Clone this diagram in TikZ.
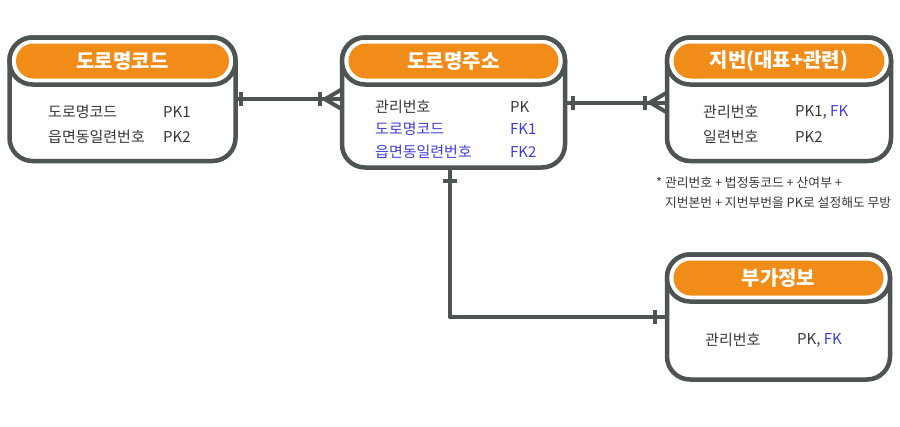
\documentclass[tikz,border=0pt]{standalone}
\usepackage{fontspec}
\setmainfont{Noto Sans CJK KR}
\usetikzlibrary{calc}
\definecolor{erline}{HTML}{4E5353}
\definecolor{erhead}{HTML}{F28C18}
\definecolor{fkblue}{HTML}{3F3FD6}
\definecolor{ertext}{HTML}{363838}
\tikzset{
  ent/.style={draw=erline,line width=4.5pt,rounded corners=23pt,outer sep=0pt,
    inner sep=0pt,fill=white},
  hdrbox/.style={ent,minimum height=47pt},
  ttl/.style={fill=erhead,rounded corners=17.5pt,minimum height=35pt,inner sep=0pt,
    text=white,font=\fontsize{20}{22}\selectfont\bfseries},
  fld/.style={anchor=west,inner sep=0pt,text=ertext,font=\fontsize{15}{17}\selectfont},
  fk/.style={fld,text=fkblue},
  rel/.style={draw=erline,line width=4pt,line join=round},
  onebar/.style={draw=erline,line width=4.5pt},
  note/.style={anchor=west,inner sep=0pt,align=left,text=ertext,
    font=\fontsize{12.8}{20}\selectfont},
}

\begin{document}
\begin{tikzpicture}[x=1pt,y=-1pt]
  \useasboundingbox (0,0) rectangle (900,426);
  % entities
  \node[ent,minimum width=226pt,minimum height=123.5pt] (ma) at (122.5,99.25) {};
  \node[ent,minimum width=223pt,minimum height=130pt] (mb) at (453.5,102.5) {};
  \node[ent,minimum width=224pt,minimum height=123.5pt] (mc) at (779,99.25) {};
  \node[ent,minimum width=223pt,minimum height=125pt] (md) at (778.5,317) {};
  \node[hdrbox,minimum width=226pt,anchor=north] (mah) at (ma.north) {};
  \node[hdrbox,minimum width=223pt,anchor=north] (mbh) at (mb.north) {};
  \node[hdrbox,minimum width=224pt,anchor=north] (mch) at (mc.north) {};
  \node[hdrbox,minimum width=223pt,anchor=north] (mdh) at (md.north) {};
  \node[ttl,minimum width=213pt] (mat) at (mah) {도로명코드};
  \node[ttl,minimum width=210pt] (mbt) at (mbh) {도로명주소};
  \node[ttl,minimum width=211pt] (mct) at (mch) {지번(대표+관련)};
  \node[ttl,minimum width=210pt] (mdt) at (mdh) {부가정보};
  % fields
  \node[fld] (ma1) at (48,112) {도로명코드};
  \node[fld] (ma1k) at (163,112) {PK1};
  \node[fld] (ma2) at (48,137) {읍면동일련번호};
  \node[fld] (ma2k) at (163,137) {PK2};
  \node[fld] (mb1) at (375,107) {관리번호};
  \node[fld] (mb1k) at (510,107) {PK};
  \node[fk] (mb2) at (375,129) {도로명코드};
  \node[fk] (mb2k) at (510,129) {FK1};
  \node[fk] (mb3) at (375,152) {읍면동일련번호};
  \node[fk] (mb3k) at (510,152) {FK2};
  \node[fld] (mc1) at (703,112) {관리번호};
  \node[fld] (mc1k) at (795,112) {PK1, \textcolor{fkblue}{FK}};
  \node[fld] (mc2) at (703,137) {일련번호};
  \node[fld] (mc2k) at (795,137) {PK2};
  \node[fld] (md1) at (705,340) {관리번호};
  \node[fld] (md1k) at (797,340) {PK, \textcolor{fkblue}{FK}};
  \node[note] (nt) at (656,193) {* 관리번호 + 법정동코드 + 산여부 +\\
    \hphantom{* }지번본번 + 지번부번을 PK로 설정해도 무방};
  % relations
  \draw[rel] (ma.east) -- (ma.east -| mb.west);
  \draw[onebar] ($(ma.east)+(5.5,-7)$) -- ++(0,14);
  \draw[onebar] ($(ma.east -| mb.west)+(-22,-7)$) -- ++(0,14);
  \draw[rel] ($(ma.east -| mb.west)+(0,-10)$) -- ++(-17,10) -- ++(17,10);
  \draw[rel] (mb.east) -- (mb.east -| mc.west);
  \draw[onebar] ($(mb.east)+(8,-7)$) -- ++(0,14);
  \draw[onebar] ($(mb.east -| mc.west)+(-22,-7)$) -- ++(0,14);
  \draw[rel] ($(mb.east -| mc.west)+(0,-10)$) -- ++(-17,10) -- ++(17,10);
  \draw[rel] ([xshift=-4pt]mb.south) |- (md.west);
  \draw[onebar] ($([xshift=-4pt]mb.south)+(-7,13.5)$) -- ++(14,0);
  \draw[onebar] ($(md.west)+(-12,-7)$) -- ++(0,14);
\end{tikzpicture}
\end{document}
